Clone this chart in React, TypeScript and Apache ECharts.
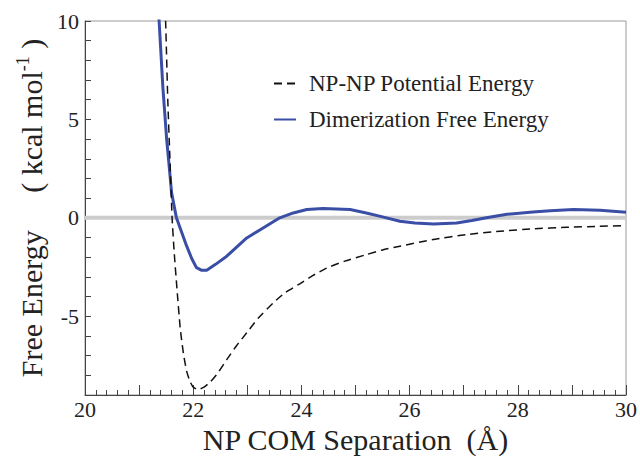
import React, { useEffect, useRef } from "react";
import * as echarts from "echarts";

const freeX = [21.33, 21.37, 21.44, 21.51, 21.56, 21.6, 21.69, 21.79, 21.88, 21.97, 22.06, 22.15, 22.25, 22.42, 22.62, 22.99, 23.3, 23.6, 23.85, 24.1, 24.4, 24.9, 25.2, 25.5, 25.82, 26.1, 26.44, 26.87, 27.15, 27.42, 27.8, 28.28, 28.6, 29.03, 29.52, 30.0];
const freeY = [11, 10, 6.6, 3.98, 2.5, 1.28, 0, -0.76, -1.44, -2.05, -2.53, -2.66, -2.66, -2.35, -1.95, -1.02, -0.5, 0, 0.25, 0.42, 0.47, 0.42, 0.25, 0.05, -0.17, -0.26, -0.31, -0.26, -0.14, 0, 0.18, 0.3, 0.36, 0.42, 0.39, 0.29];

const potX = [21.46, 21.49, 21.53, 21.57, 21.61, 21.65, 21.7, 21.76, 21.82, 21.88, 21.94, 22.0, 22.09, 22.2, 22.31, 22.45, 22.62, 22.8, 22.99, 23.2, 23.48, 23.7, 23.97, 24.2, 24.47, 24.8, 25.2, 25.5, 25.82, 26.44, 27.05, 27.67, 28.29, 28.9, 29.5, 30.0];
const potY = [12, 10, 6, 3, 0, -1.8, -3.6, -5.6, -6.9, -7.8, -8.3, -8.6, -8.72, -8.6, -8.35, -7.9, -7.2, -6.5, -5.84, -5.1, -4.32, -3.8, -3.35, -2.95, -2.55, -2.2, -1.87, -1.63, -1.44, -1.1, -0.85, -0.68, -0.56, -0.48, -0.43, -0.39];

const zeroX = [20, 30];
const zeroY = [0, 0];

const seriesNames = ["NP-NP Potential Energy", "Dimerization Free Energy"];
const xLabelValues = [20, 22, 24, 26, 28, 30];
const yLabelValues = [-5, 0, 5, 10];

const FONT = "Liberation Serif";

export default function App() {
  const ref = useRef<HTMLDivElement>(null);
  useEffect(() => {
    if (!ref.current) return;
    const chart = echarts.init(ref.current, null, { renderer: "svg" });
    const zip = (xs: number[], ys: number[]) => xs.map((x, i) => [x, ys[i]]);
    chart.setOption({
      animation: false,
      backgroundColor: "#ffffff",
      textStyle: { fontFamily: FONT },
      grid: {
        left: 85,
        right: 14,
        top: 21,
        bottom: 61,
        outerBoundsMode: "none",
        containLabel: false,
        show: true,
        borderColor: "#999999",
        borderWidth: 1,
      },
      legend: {
        data: seriesNames,
        orient: "vertical",
        left: 268,
        top: 67,
        itemWidth: 22,
        itemHeight: 14,
        itemGap: 13,
        itemStyle: { opacity: 0 },
        textStyle: { fontFamily: FONT, fontSize: 23, color: "#222", padding: [0, 0, 0, 8] },
      },
      xAxis: {
        type: "value",
        min: 20,
        max: 30,
        interval: 1,
        splitLine: { show: false },
        axisLine: { onZero: false, lineStyle: { color: "#444", width: 1 } },
        axisTick: { inside: true, length: 10, lineStyle: { color: "#444" } },
        minorTick: { show: true, splitNumber: 5, length: 5, lineStyle: { color: "#444" } },
        axisLabel: {
          margin: 3,
          fontFamily: FONT,
          fontSize: 22,
          color: "#222",
          formatter: (v: number) => (xLabelValues.includes(v) ? String(v) : ""),
        },
        name: "NP COM Separation  (Å)",
        nameLocation: "middle",
        nameGap: 25,
        nameTextStyle: { fontFamily: FONT, fontSize: 30, color: "#222" },
      },
      yAxis: {
        type: "value",
        min: -9,
        max: 10,
        interval: 1,
        splitLine: { show: false },
        axisLine: { onZero: false, lineStyle: { color: "#444", width: 1 } },
        axisTick: { inside: true, length: 6, lineStyle: { color: "#444" } },
        axisLabel: {
          margin: 6,
          fontFamily: FONT,
          fontSize: 22,
          color: "#222",
          formatter: (v: number) => (yLabelValues.includes(v) ? String(v) : ""),
        },
        name: "Free Energy     ( kcal mol{sup|-1} )",
        nameLocation: "middle",
        nameGap: 28,
        nameTextStyle: {
          fontFamily: FONT,
          fontSize: 30,
          color: "#222",
          rich: {
            sup: { fontFamily: FONT, fontSize: 18, color: "#222", padding: [0, 0, 16, 0] },
          },
        },
      },
      series: [
        {
          name: "zero",
          type: "line",
          data: zip(zeroX, zeroY),
          symbol: "none",
          silent: true,
          z: 1,
          lineStyle: { color: "#cccccc", width: 4 },
        },
        {
          name: seriesNames[0],
          type: "line",
          data: zip(potX, potY),
          symbol: "none",
          smooth: 0.2,
          z: 3,
          color: "#111",
          lineStyle: { color: "#111", width: 1.5, type: [8, 5] },
        },
        {
          name: seriesNames[1],
          type: "line",
          data: zip(freeX, freeY),
          symbol: "none",
          z: 2,
          color: "#3a4ea6",
          lineStyle: { color: "#3a4ea6", width: 3 },
        },
      ],
    });
    return () => chart.dispose();
  }, []);
  return (
    <div
      ref={ref}
      style={{ position: "absolute", left: 0, top: 0, width: 640, height: 456 }}
    />
  );
}
